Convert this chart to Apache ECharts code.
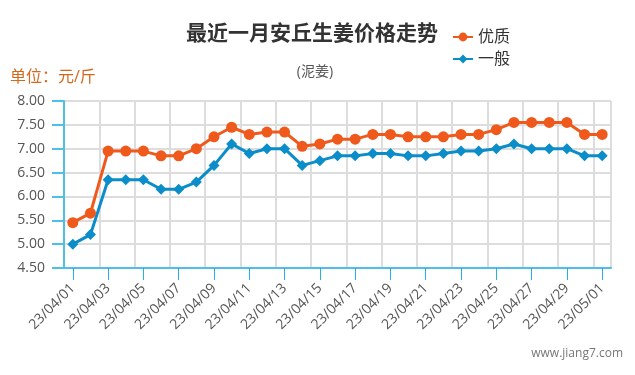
<!DOCTYPE html>
<html>
<head>
<meta charset="utf-8">
<script src="https://cdn.jsdelivr.net/npm/echarts@6/dist/echarts.min.js"></script>
<style>
    html, body {margin:0;padding:0;background:#fff;}
    #main {width:635px;height:375px;}
</style>
</head>
<body>
<div id="main"></div>
<script>
    // 日期
    var dates = ['23/04/01','23/04/02','23/04/03','23/04/04','23/04/05','23/04/06','23/04/07','23/04/08',
        '23/04/09','23/04/10','23/04/11','23/04/12','23/04/13','23/04/14','23/04/15','23/04/16',
        '23/04/17','23/04/18','23/04/19','23/04/20','23/04/21','23/04/22','23/04/23','23/04/24',
        '23/04/25','23/04/26','23/04/27','23/04/28','23/04/29','23/04/30','23/05/01'];
    // 优质
    var youzhi = [5.45,5.65,6.95,6.95,6.95,6.85,6.85,7.00,7.25,7.45,7.30,7.35,7.35,7.05,7.10,7.20,
        7.20,7.30,7.30,7.25,7.25,7.25,7.30,7.30,7.40,7.55,7.55,7.55,7.55,7.30,7.30];
    // 一般
    var yiban = [5.00,5.20,6.35,6.35,6.35,6.15,6.15,6.30,6.65,7.10,6.90,7.00,7.00,6.65,6.75,6.85,
        6.85,6.90,6.90,6.85,6.85,6.90,6.95,6.95,7.00,7.10,7.00,7.00,7.00,6.85,6.85];

    var myChart = echarts.init(document.getElementById('main'));
    var fontFam = '"Open Sans","Noto Sans CJK SC",sans-serif';
    var myoption = {
        animation: false,
        title: [
            {
                text: '最近一月安丘生姜价格走势',
                left: 307, textAlign: 'center', top: 17,
                textStyle: {fontSize: 21, fontWeight: 'bold', color: '#333', fontFamily: '"Noto Sans CJK SC",sans-serif'}
            },
            {
                text: '(泥姜)',
                left: 310, textAlign: 'center', top: 60,
                textStyle: {fontSize: 14, fontWeight: 'normal', color: '#555', fontFamily: fontFam}
            },
            {
                text: '单位：元/斤',
                left: 5, top: 64,
                textStyle: {fontSize: 16, fontWeight: 'normal', color: '#d2691e', fontFamily: fontFam}
            }
        ],
        legend: {
            orient: 'vertical',
            left: 447, top: 24,
            itemWidth: 20, itemHeight: 11, itemGap: 6,
            textStyle: {fontSize: 16, color: '#333', fontFamily: fontFam},
            data: ['优质', '一般']
        },
        grid: {left: 64, right: 24, top: 101, bottom: 107},
        xAxis: {
            type: 'category',
            boundaryGap: true,
            data: dates,
            axisLine: {lineStyle: {color: '#4dc0e8', width: 2}},
            axisTick: {show: true, alignWithLabel: true, interval: 1, length: 12, lineStyle: {color: '#29b0e2', width: 1}},
            axisLabel: {interval: 1, rotate: 45, color: '#555', fontSize: 14, fontFamily: fontFam, margin: 18},
            splitLine: {show: true, interval: 1, lineStyle: {color: '#ddd', width: 2}}
        },
        yAxis: {
            type: 'value',
            min: 4.5, max: 8, interval: 0.5,
            axisLine: {show: true, lineStyle: {color: '#4dc0e8', width: 2}},
            axisTick: {show: true, length: 12, lineStyle: {color: '#4dc0e8', width: 2}},
            axisLabel: {color: '#555', fontSize: 14, fontFamily: fontFam, margin: 19,
                formatter: function (v) { return v.toFixed(2); }},
            splitLine: {lineStyle: {color: '#ddd', width: 2}}
        },
        series: [
            {
                name: '优质',
                type: 'line',
                data: youzhi,
                symbol: 'circle',
                symbolSize: 11,
                itemStyle: {color: '#ef5a1c'},
                lineStyle: {color: '#ef5a1c', width: 3}
            },
            {
                name: '一般',
                type: 'line',
                data: yiban,
                symbol: 'diamond',
                symbolSize: 11,
                itemStyle: {color: '#0a8dc9'},
                lineStyle: {color: '#0a8dc9', width: 3}
            }
        ],
        graphic: [{
            type: 'text', right: 12, top: 348,
            style: {text: 'www.jiang7.com', fill: '#777', fontSize: 12, fontFamily: fontFam}
        }]
    };
    myChart.setOption(myoption);
</script>
</body>
</html>
